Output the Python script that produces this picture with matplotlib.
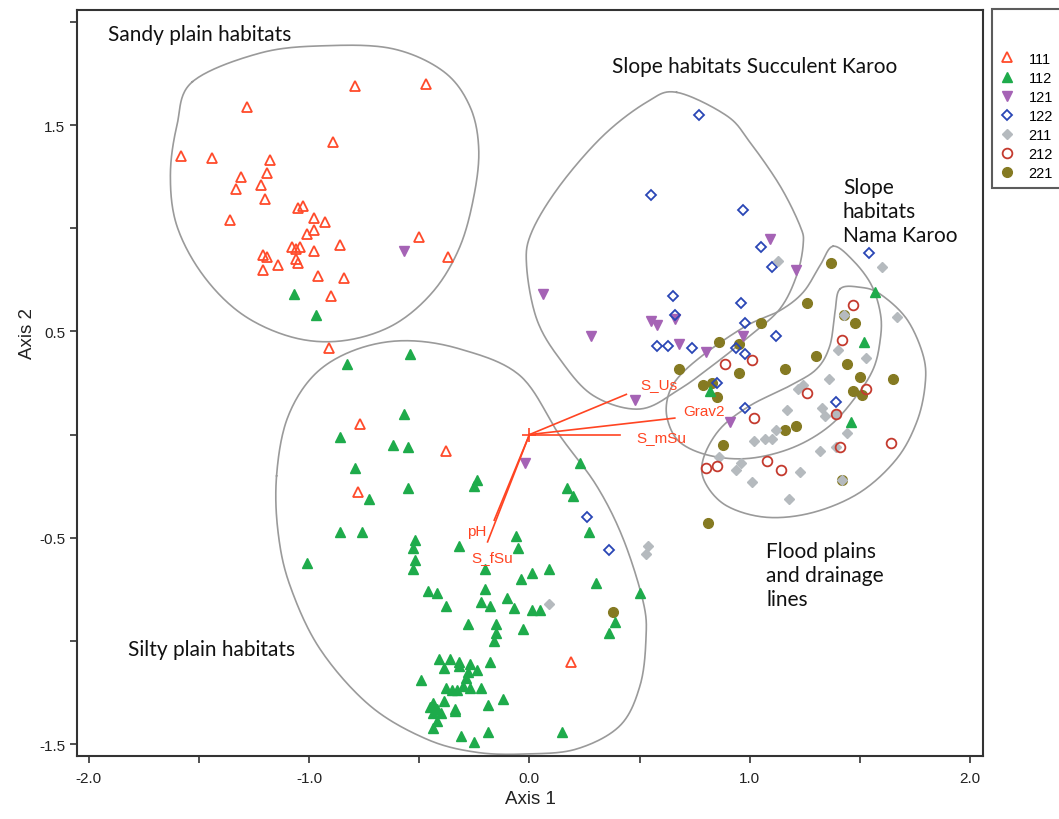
import numpy as np
import matplotlib
matplotlib.use('Agg')
import matplotlib.pyplot as plt

# ---- ordination scores, one list of (axis1, axis2) per group ----
g111 = [(-0.79, 1.69), (-0.47, 1.70), (-1.28, 1.59), (-0.89, 1.42), (-1.58, 1.35), (-1.44, 1.34),
        (-1.18, 1.33), (-1.31, 1.25), (-1.19, 1.27), (-1.22, 1.21), (-1.33, 1.19), (-1.20, 1.14),
        (-1.05, 1.10), (-1.03, 1.11), (-1.36, 1.04), (-0.98, 1.05), (-0.93, 1.03), (-0.98, 0.99),
        (-1.01, 0.97), (-0.50, 0.96), (-1.08, 0.91), (-1.06, 0.90), (-1.04, 0.91), (-0.98, 0.89),
        (-0.86, 0.92), (-0.37, 0.86), (-1.21, 0.87), (-1.19, 0.86), (-1.06, 0.85), (-1.05, 0.83),
        (-1.14, 0.82), (-1.21, 0.80), (-0.96, 0.77), (-0.84, 0.76), (-0.90, 0.67), (-0.91, 0.42),
        (-0.77, 0.05), (-0.38, -0.08), (-0.78, -0.28), (0.19, -1.10)]
g112 = [(-1.07, 0.68), (-0.97, 0.58), (-0.54, 0.39), (-0.83, 0.34), (-0.57, 0.10), (-0.86, -0.01),
        (-0.62, -0.05), (-0.55, -0.06), (-0.79, -0.16), (-0.55, -0.26), (-0.24, -0.22), (-0.25, -0.25),
        (-0.73, -0.31), (0.23, -0.14), (0.17, -0.26), (0.20, -0.30), (0.27, -0.47), (-0.86, -0.47),
        (-0.76, -0.47), (-0.52, -0.51), (-0.53, -0.55), (-0.52, -0.61), (-0.53, -0.65), (-1.01, -0.62),
        (-0.32, -0.54), (-0.06, -0.49), (-0.05, -0.55), (-0.20, -0.65), (0.01, -0.67), (0.09, -0.65),
        (-0.04, -0.70), (0.30, -0.72), (0.50, -0.77), (-0.46, -0.76), (-0.42, -0.77), (-0.38, -0.83),
        (-0.20, -0.75), (-0.22, -0.81), (-0.18, -0.83), (-0.10, -0.79), (-0.07, -0.84), (0.01, -0.85),
        (0.05, -0.85), (-0.28, -0.92), (-0.15, -0.92), (-0.15, -0.96), (-0.16, -1.00), (-0.03, -0.94),
        (0.39, -0.91), (0.36, -0.96), (-0.18, -1.10), (-0.41, -1.09), (-0.36, -1.09), (-0.32, -1.10),
        (-0.27, -1.11), (-0.39, -1.13), (-0.32, -1.12), (-0.24, -1.14), (-0.28, -1.15), (-0.29, -1.18),
        (-0.49, -1.19), (-0.38, -1.23), (-0.35, -1.24), (-0.33, -1.24), (-0.30, -1.22), (-0.27, -1.23),
        (-0.22, -1.23), (-0.12, -1.28), (-0.44, -1.30), (-0.39, -1.29), (-0.45, -1.32), (-0.42, -1.33),
        (-0.40, -1.35), (-0.44, -1.35), (-0.34, -1.33), (-0.34, -1.34), (-0.19, -1.31), (-0.42, -1.39),
        (-0.44, -1.42), (-0.31, -1.46), (-0.25, -1.49), (-0.19, -1.44), (0.15, -1.44), (1.57, 0.69),
        (1.52, 0.45), (1.46, 0.06), (0.82, 0.21)]
g121 = [(-0.57, 0.89), (1.09, 0.95), (1.21, 0.80), (0.06, 0.68), (0.28, 0.48), (0.55, 0.55),
        (0.58, 0.53), (0.66, 0.56), (0.68, 0.44), (0.80, 0.40), (0.97, 0.48), (0.91, 0.06),
        (0.48, 0.17), (-0.02, -0.14)]
g122 = [(0.77, 1.55), (0.55, 1.16), (0.97, 1.09), (1.05, 0.91), (1.10, 0.81), (0.65, 0.67),
        (0.66, 0.58), (0.96, 0.64), (0.98, 0.54), (1.12, 0.48), (0.58, 0.43), (0.63, 0.43),
        (0.74, 0.42), (0.94, 0.42), (0.98, 0.39), (0.85, 0.25), (1.54, 0.88), (0.98, 0.13),
        (1.39, 0.16), (0.26, -0.40), (0.36, -0.56)]
g211 = [(1.13, 0.84), (1.60, 0.81), (1.67, 0.57), (1.43, 0.58), (1.40, 0.41), (1.53, 0.37),
        (1.36, 0.27), (1.22, 0.22), (1.24, 0.24), (1.33, 0.13), (1.34, 0.09), (1.39, 0.10),
        (1.17, 0.12), (1.12, 0.02), (1.02, -0.03), (1.07, -0.02), (1.10, -0.02), (1.44, 0.01),
        (1.39, -0.06), (1.32, -0.08), (0.86, -0.11), (0.96, -0.14), (0.94, -0.17), (1.23, -0.18),
        (1.01, -0.23), (1.18, -0.31), (1.42, -0.22), (0.54, -0.54), (0.53, -0.58), (0.09, -0.82)]
g212 = [(1.47, 0.63), (1.42, 0.46), (0.89, 0.34), (1.01, 0.36), (1.53, 0.22), (1.26, 0.20),
        (1.02, 0.08), (1.39, 0.10), (1.41, -0.06), (1.64, -0.04), (1.08, -0.13), (1.14, -0.17),
        (0.80, -0.16), (0.85, -0.15)]
g221 = [(1.37, 0.83), (1.26, 0.64), (1.43, 0.58), (1.48, 0.54), (1.05, 0.54), (0.86, 0.45),
        (0.95, 0.44), (1.30, 0.38), (1.44, 0.34), (0.68, 0.32), (0.95, 0.30), (1.16, 0.32),
        (0.79, 0.24), (0.83, 0.25), (1.50, 0.28), (1.65, 0.27), (1.47, 0.21), (1.51, 0.19),
        (0.85, 0.18), (1.16, 0.02), (1.21, 0.04), (0.88, -0.05), (1.42, -0.22), (0.81, -0.43),
        (0.38, -0.86)]

group_labels = ['111', '112', '121', '122', '211', '212', '221']

# environmental vectors (biplot)
vec_names = ['S_Us', 'Grav2', 'S_mSu', 'pH', 'S_fSu']
vec_x = [0.44, 0.66, 0.41, -0.16, -0.19]
vec_y = [0.195, 0.08, 0.0, -0.415, -0.52]

# hull outlines (axis units)
hull_sandy = [(-1.53, 1.71), (-1.22, 1.85), (-0.92, 1.885), (-0.62, 1.87), (-0.39, 1.76),
              (-0.27, 1.59), (-0.23, 1.38), (-0.255, 1.14), (-0.32, 0.90), (-0.44, 0.69),
              (-0.62, 0.53), (-0.845, 0.455), (-1.07, 0.47), (-1.30, 0.58), (-1.48, 0.77),
              (-1.60, 1.01), (-1.63, 1.255), (-1.60, 1.50)]
hull_silty = [(-1.148, -0.20), (-1.10, 0.076), (-0.98, 0.286), (-0.80, 0.407), (-0.573, 0.455),
              (-0.316, 0.415), (-0.043, 0.286), (0.138, -0.005), (0.305, -0.248), (0.426, -0.506),
              (0.517, -0.813), (0.529, -0.991), (0.502, -1.217), (0.411, -1.411), (0.214, -1.524),
              (-0.013, -1.548), (-0.24, -1.54), (-0.467, -1.476), (-0.724, -1.314), (-0.951, -1.039),
              (-1.087, -0.732), (-1.141, -0.474)]
hull_succ = [(0.668, 1.659), (0.895, 1.546), (1.001, 1.417), (1.137, 1.207), (1.228, 1.013),
             (1.243, 0.924), (1.213, 0.770), (1.137, 0.609), (1.001, 0.479), (0.850, 0.350),
             (0.683, 0.221), (0.502, 0.124), (0.290, 0.189), (0.138, 0.366), (0.033, 0.560),
             (-0.013, 0.819), (0.010, 0.981), (0.138, 1.207), (0.335, 1.449), (0.532, 1.611)]
hull_nama = [(1.379, 0.913), (1.470, 0.843), (1.554, 0.722), (1.595, 0.576), (1.591, 0.447),
             (1.561, 0.318), (1.486, 0.189), (1.364, 0.043), (1.198, -0.062), (1.001, -0.115),
             (0.820, -0.102), (0.683, -0.037), (0.626, 0.076), (0.630, 0.189), (0.683, 0.286),
             (0.805, 0.399), (0.986, 0.528), (1.137, 0.601), (1.243, 0.690), (1.319, 0.819)]
hull_flood = [(1.410, 0.706), (1.501, 0.714), (1.591, 0.682), (1.713, 0.560), (1.788, 0.382),
              (1.796, 0.237), (1.758, 0.060), (1.667, -0.118), (1.501, -0.280), (1.289, -0.377),
              (1.077, -0.401), (0.895, -0.345), (0.797, -0.231), (0.789, -0.118), (0.865, 0.027),
              (1.001, 0.140), (1.183, 0.237), (1.304, 0.318), (1.364, 0.431), (1.387, 0.593)]


def closed_curve(pts, n=24):
    # closed Catmull-Rom spline through the outline points
    p = np.asarray(pts, dtype=float)
    m = len(p)
    t = np.linspace(0, 1, n, endpoint=False)[:, None]
    segs = []
    for i in range(m):
        p0, p1, p2, p3 = p[i - 1], p[i], p[(i + 1) % m], p[(i + 2) % m]
        segs.append(0.5 * (2 * p1 + (-p0 + p2) * t + (2 * p0 - 5 * p1 + 4 * p2 - p3) * t ** 2
                           + (-p0 + 3 * p1 - 3 * p2 + p3) * t ** 3))
    c = np.vstack(segs)
    return np.vstack([c, c[:1]])


fig = plt.figure(figsize=(10.59, 8.2), dpi=100)
ax = fig.add_axes([0.0727, 0.0768, 0.8555, 0.9098])

for h in [hull_sandy, hull_silty, hull_succ, hull_nama, hull_flood]:
    c = closed_curve(h)
    ax.plot(c[:, 0], c[:, 1], color='#9a9a9a', lw=1.2, zorder=1)

styles = [
    (g111, dict(marker='^', mfc='none', mec='#ff4b2b', mew=1.3, ms=7)),
    (g112, dict(marker='^', mfc='#1eab4b', mec='#1eab4b', ms=7)),
    (g121, dict(marker='v', mfc='#a563b5', mec='#a563b5', ms=7)),
    (g122, dict(marker='D', mfc='none', mec='#2946b5', mew=1.3, ms=5)),
    (g211, dict(marker='D', mfc='#b5babe', mec='#b5babe', ms=5)),
    (g212, dict(marker='o', mfc='none', mec='#c43a2e', mew=1.3, ms=7)),
    (g221, dict(marker='o', mfc='#857a22', mec='#857a22', ms=7)),
]
for (pts, st), lab in zip(styles, group_labels):
    a = np.array(pts)
    z = 2 if lab == '221' else 3
    ax.plot(a[:, 0], a[:, 1], ls='none', label=lab, zorder=z, **st)

# biplot vectors
red = '#ff4422'
for vx, vy in zip(vec_x, vec_y):
    ax.plot([0, vx], [0, vy], color=red, lw=1.2, zorder=4)
ax.plot([0], [0], marker='+', color=red, ms=10, mew=1.2, zorder=4)
lab_font = dict(color=red, fontsize=11, family=['Liberation Sans', 'DejaVu Sans'], zorder=5)
ax.text(0.502, 0.245, 'S_Us', ha='left', va='center', **lab_font)
ax.text(0.697, 0.114, 'Grav2', ha='left', va='center', **lab_font)
ax.text(0.484, -0.012, 'S_mSu', ha='left', va='center', **lab_font)
ax.text(-0.238, -0.467, 'pH', ha='center', va='center', **lab_font)
ax.text(-0.17, -0.593, 'S_fSu', ha='center', va='center', **lab_font)

# habitat annotations
hab_font = dict(fontsize=15, family=['Lato', 'DejaVu Sans'], color='#111111')
ax.text(-1.914, 1.942, 'Sandy plain habitats', ha='left', va='center', **hab_font)
ax.text(0.373, 1.787, 'Slope habitats Succulent Karoo', ha='left', va='center', **hab_font)
ax.text(1.423, 1.084, 'Slope\nhabitats\nNama Karoo', ha='left', va='center', linespacing=1.27, **hab_font)
ax.text(1.075, -0.681, 'Flood plains\nand drainage\nlines', ha='left', va='center', linespacing=1.27, **hab_font)
ax.text(-1.065, -1.04, 'Silty plain habitats', ha='right', va='center', **hab_font)

ax.set_xlim(-2.054, 2.059)
ax.set_ylim(-1.558, 2.058)
xt = np.arange(-2.0, 2.01, 0.5)
yt = np.arange(-1.5, 2.01, 0.5)
ax.set_xticks(xt)
ax.set_xticklabels(['%.1f' % v if abs(v - round(v)) < 1e-9 else '' for v in xt])
ax.set_yticks(yt)
ax.set_yticklabels(['%.1f' % v if abs(v - round(v)) > 1e-9 else '' for v in yt])
ax.tick_params(length=5, width=1.2, color='#333333', labelsize=11, labelcolor='#222222')
ax.tick_params(axis='x', pad=6)
for lbl in ax.get_xticklabels() + ax.get_yticklabels():
    lbl.set_family(['Liberation Sans', 'DejaVu Sans'])
for s in ax.spines.values():
    s.set_linewidth(1.5)
    s.set_color('#333333')

fig.text(0.5005, 0.0244, 'Axis 1', ha='center', va='center', fontsize=13.5,
         family=['Liberation Sans Narrow', 'Liberation Sans'], color='#222222')
fig.text(0.0255, 0.5927, 'Axis 2', ha='center', va='center', rotation=90, fontsize=13.5,
         family=['Liberation Sans Narrow', 'Liberation Sans'], color='#222222')

leg = ax.legend(loc='upper left', bbox_to_anchor=(992 / 1059, 1 - 10 / 820, 0.1, 0.0),
                bbox_transform=fig.transFigure, mode='expand', borderaxespad=0,
                title='\n', labelspacing=0.35, handlelength=1.0,
                handletextpad=1.0, borderpad=0.5, fancybox=False, frameon=True,
                prop={'family': ['Liberation Sans', 'DejaVu Sans'], 'size': 10.5})
leg.get_frame().set_edgecolor('#333333')
leg.get_frame().set_linewidth(1.5)

fig.savefig('out.png', dpi=100)
